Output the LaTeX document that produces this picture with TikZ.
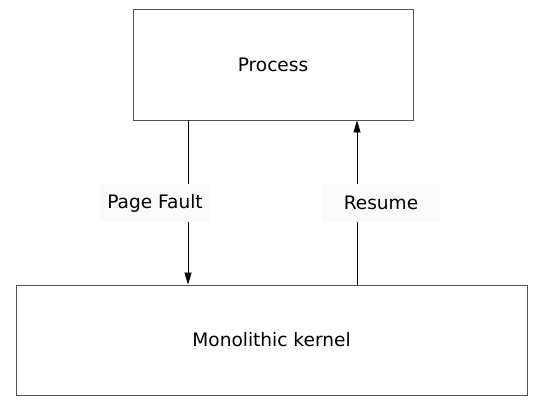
\documentclass[tikz,border=0pt]{standalone}
\usepackage{fontspec}
\setmainfont{DejaVu Sans}
\usepackage{tikz}
\usetikzlibrary{arrows.meta, positioning}
\usepackage{xcolor}
\definecolor{Edge}{HTML}{555555}
\definecolor{Tag}{HTML}{FAFAFA}

\begin{document}
\begin{tikzpicture}[x=0.025cm, y=-0.025cm, >={Triangle[length=8.5pt, width=5pt]},
    font=\fontsize{13.2}{15}\selectfont,
    block/.style={draw=Edge, line width=0.7pt, fill=white, inner sep=0pt},
    tag/.style={fill=Tag, inner sep=0pt, minimum height=38*0.025cm},
    flow/.style={->, line width=0.6pt, black}]
  \useasboundingbox (0,0) rectangle (544,403);
  \node[block, minimum width=280*0.025cm, minimum height=111*0.025cm] (proc) at (273, 64.5) {Process};
  \node[block, minimum width=511*0.025cm, minimum height=110*0.025cm] (kern) at (271.5, 340) {Monolithic kernel};
  \coordinate (pfx) at (188, 0);
  \coordinate (rsx) at (357, 0);
  \draw[flow] (proc.south -| pfx) -- (kern.north -| pfx);
  \draw[flow] (kern.north -| rsx) -- (proc.south -| rsx);
  \node[tag, minimum width=110*0.025cm] (fault) at (155, 203) {Page Fault};
  \node[tag, minimum width=117*0.025cm] (resume) at (381, 203) {Resume};
\end{tikzpicture}
\end{document}
